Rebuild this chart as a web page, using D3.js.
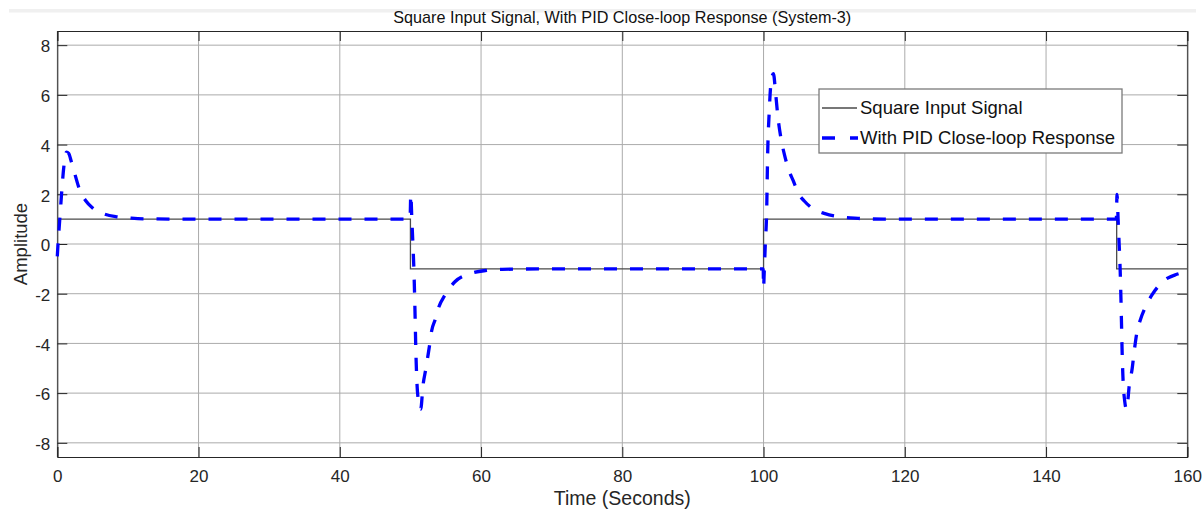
<!DOCTYPE html>
<html lang="en">
<head>
<meta charset="UTF-8">
<title>Square Input Signal, With PID Close-loop Response (System-3)</title>
<script src="https://d3js.org/d3.v7.min.js"></script>
<style>
    body { margin: 0; padding: 0; background: #fff; }
    svg { display: block; font-family: "Liberation Sans", Arial, sans-serif; }
</style>
</head>
<body>
<div id="chart"></div>
<script>
// square input signal (step after each time)
const squareTime = [0, 50, 100, 150, 160];
const squareValue = [1, -1, 1, -1, -1];

// PID close-loop response
const respTime = [
    0, 0.1, 0.25, 0.45, 0.65, 0.85, 1.05, 1.3, 1.6, 2.0, 2.5, 3.2, 4.0, 5.0, 6.5, 8.5, 10.5, 13, 20, 30, 40, 49.95,
    50.05, 50.2, 50.35, 50.5, 50.6, 50.68, 50.76, 50.88, 51.15, 51.45, 51.8, 52.2, 52.45, 52.8, 53.0, 53.5, 54.0, 54.9, 56.3, 58.4, 60.8, 63, 70, 80, 90, 99.95,
    100.0, 100.1, 100.25, 100.44, 100.58, 100.8, 101.1, 101.4, 101.7, 102.0, 102.5, 103.0, 103.6, 104.2, 104.9, 105.8, 106.6, 108.7, 110.8, 113.4, 117, 130, 140, 149.95,
    150.05, 150.2, 150.35, 150.5, 150.6, 150.68, 150.76, 150.88, 151.15, 151.4, 151.8, 152.2, 152.45, 152.9, 153.3, 154.2, 155.0, 156.5, 158.5, 160
];
const respValue = [
    -0.5, 0.0, 0.6, 1.4, 2.2, 2.9, 3.4, 3.7, 3.65, 3.3, 2.8, 2.15, 1.75, 1.45, 1.22, 1.09, 1.04, 1.01, 1.0, 1.0, 1.0, 1.0,
    2.0, 1.0, 0.0, -1.1, -2.15, -3.15, -4.2, -5.3, -6.35, -6.65, -5.65, -5.0, -4.55, -3.9, -3.5, -3.05, -2.55, -2.05, -1.52, -1.2, -1.06, -1.02, -1.0, -1.0, -1.0, -1.0,
    -1.75, -1.1, 0.0, 1.3, 3.6, 5.3, 6.6, 6.85, 6.1, 5.2, 4.2, 3.55, 2.95, 2.55, 2.05, 1.72, 1.5, 1.22, 1.09, 1.03, 1.0, 1.0, 1.0, 1.0,
    2.0, 1.0, 0.0, -1.1, -2.15, -3.15, -4.2, -5.3, -6.35, -6.65, -5.65, -5.0, -4.4, -3.5, -3.1, -2.46, -2.05, -1.52, -1.22, -1.12
];

const xTicks = [0, 20, 40, 60, 80, 100, 120, 140, 160];
const yTicks = [-8, -6, -4, -2, 0, 2, 4, 6, 8];

const titleText = "Square Input Signal, With PID Close-loop Response (System-3)";
const xLabel = "Time (Seconds)";
const yLabel = "Amplitude";
const legendLabels = ["Square Input Signal", "With PID Close-loop Response"];

const W = 1203, H = 512;
const margin = { top: 31, right: 15.7, bottom: 55, left: 57.3 };
const width = W - margin.left - margin.right;
const height = H - margin.top - margin.bottom;

const svg = d3.select("#chart").append("svg")
    .attr("width", W)
    .attr("height", H);

// thin gray strip at the very top
svg.append("rect")
    .attr("x", 9).attr("y", 9)
    .attr("width", 1187).attr("height", 3.5)
    .attr("fill", "#f0f0f0");

svg.append("text")
    .attr("x", margin.left + width / 2)
    .attr("y", 23)
    .attr("text-anchor", "middle")
    .attr("font-size", 16.2)
    .attr("fill", "#111")
    .text(titleText);

const g = svg.append("g")
    .attr("transform", "translate(" + margin.left + "," + margin.top + ")");

const x = d3.scaleLinear().domain([0, 160]).range([0, width]);
const y = d3.scaleLinear().domain([-8.57, 8.57]).range([height, 0]);

// grid
g.append("g").selectAll("line").data(xTicks).join("line")
    .attr("x1", d => x(d)).attr("x2", d => x(d))
    .attr("y1", 0).attr("y2", height)
    .attr("stroke", "#ababab").attr("stroke-width", 1);
g.append("g").selectAll("line").data(yTicks).join("line")
    .attr("x1", 0).attr("x2", width)
    .attr("y1", d => y(d)).attr("y2", d => y(d))
    .attr("stroke", "#ababab").attr("stroke-width", 1);

// axes (ticks inside), plain hyphen for negatives
const fmt = d => String(d);
const axisColor = "#262626";
const xAxis = g.append("g")
    .attr("transform", "translate(0," + height + ")")
    .call(d3.axisBottom(x).tickValues(xTicks).tickSize(-10).tickPadding(13).tickFormat(fmt));
const xTop = g.append("g")
    .call(d3.axisTop(x).tickValues(xTicks).tickSize(-10).tickFormat(""));
const yAxis = g.append("g")
    .call(d3.axisLeft(y).tickValues(yTicks).tickSize(-10).tickPadding(7).tickFormat(fmt));
const yRight = g.append("g")
    .attr("transform", "translate(" + width + ",0)")
    .call(d3.axisRight(y).tickValues(yTicks).tickSize(-10).tickFormat(""));

[xAxis, xTop, yAxis, yRight].forEach(a => {
    a.select(".domain").attr("stroke", axisColor);
    a.selectAll(".tick line").attr("stroke", axisColor);
    a.selectAll(".tick text")
        .attr("fill", "#262626")
        .attr("font-size", 17)
        .attr("font-family", "Liberation Sans, Arial, sans-serif");
});
yAxis.selectAll(".tick text").attr("dy", "0.4em");

// square input
const sq = squareTime.map((t, i) => [t, squareValue[i]]);
g.append("path")
    .datum(sq)
    .attr("fill", "none")
    .attr("stroke", "#4a4a4a")
    .attr("stroke-width", 1.3)
    .attr("d", d3.line().x(d => x(d[0])).y(d => y(d[1])).curve(d3.curveStepAfter));

// response
const resp = respTime.map((t, i) => [t, respValue[i]]);
g.append("path")
    .datum(resp)
    .attr("fill", "none")
    .attr("stroke", "#0000ff")
    .attr("stroke-width", 3.3)
    .attr("stroke-dasharray", "13,13")
    .attr("d", d3.line().x(d => x(d[0])).y(d => y(d[1])).curve(d3.curveMonotoneX));

// axis labels
svg.append("text")
    .attr("x", margin.left + width / 2)
    .attr("y", 505)
    .attr("text-anchor", "middle")
    .attr("font-size", 19.5)
    .attr("fill", "#262626")
    .text(xLabel);

svg.append("text")
    .attr("transform", "translate(27," + (margin.top + height / 2) + ") rotate(-90)")
    .attr("text-anchor", "middle")
    .attr("font-size", 18.5)
    .attr("fill", "#262626")
    .text(yLabel);

// legend
const legend = svg.append("g").attr("transform", "translate(819,89)");
legend.append("rect")
    .attr("width", 303).attr("height", 64)
    .attr("fill", "#fff")
    .attr("stroke", "#7a7a7a")
    .attr("stroke-width", 1.3);
legend.append("line")
    .attr("x1", 3).attr("x2", 38).attr("y1", 19).attr("y2", 19)
    .attr("stroke", "#4a4a4a").attr("stroke-width", 1.3);
legend.append("line")
    .attr("x1", 3).attr("x2", 39).attr("y1", 49).attr("y2", 49)
    .attr("stroke", "#0000ff").attr("stroke-width", 3.3)
    .attr("stroke-dasharray", "13,15");
legend.selectAll("text.lbl").data(legendLabels).join("text")
    .attr("class", "lbl")
    .attr("x", 41)
    .attr("y", (d, i) => 25 + i * 30)
    .attr("font-size", 18.5)
    .attr("fill", "#111")
    .text(d => d);
</script>
</body>
</html>
